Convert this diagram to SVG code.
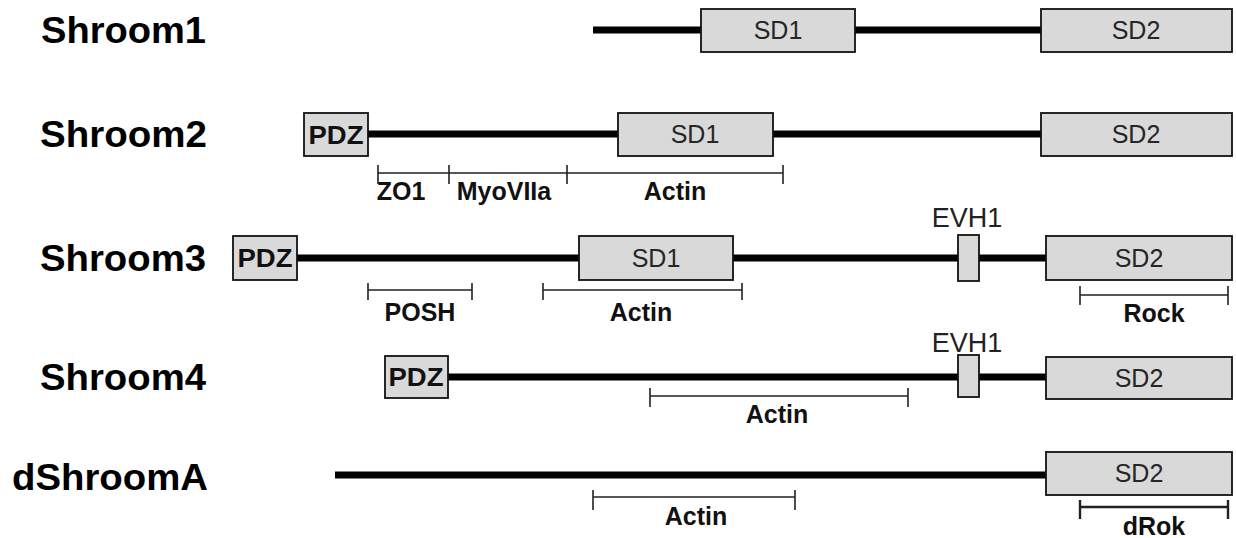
<svg xmlns="http://www.w3.org/2000/svg" width="1236" height="538" viewBox="0 0 1236 538">
  <style>
    .bg { fill: #ffffff; }
    .title { font-family: "Liberation Sans", Arial, sans-serif; font-weight: bold; font-size: 37px; fill: #000; text-anchor: end; }
    .dom { fill: #d9d9d9; stroke: #111; stroke-width: 1.8; }
    .sd { font-family: "Liberation Sans", Arial, sans-serif; font-size: 25px; fill: #262626; text-anchor: middle; }
    .pdz { font-family: "Liberation Sans", Arial, sans-serif; font-weight: bold; font-size: 26px; fill: #111; text-anchor: middle; }
    .evh { font-family: "Liberation Sans", Arial, sans-serif; font-size: 27px; fill: #222; text-anchor: middle; }
    .backbone { stroke: #000; stroke-width: 7; fill: none; }
    .bracket { stroke: #222; stroke-width: 1.6; fill: none; }
    .bracket.heavy { stroke-width: 2.4; }
    .blabel { font-family: "Liberation Sans", Arial, sans-serif; font-weight: bold; font-size: 25px; fill: #111; text-anchor: middle; }
  </style>
  <rect class="bg" x="0" y="0" width="1236" height="538"/>

  <!-- protein names -->
  <g id="labels">
    <text class="title" x="206" y="43" textLength="165" lengthAdjust="spacingAndGlyphs">Shroom1</text>
    <text class="title" x="207" y="147" textLength="167" lengthAdjust="spacingAndGlyphs">Shroom2</text>
    <text class="title" x="206" y="271" textLength="166" lengthAdjust="spacingAndGlyphs">Shroom3</text>
    <text class="title" x="206" y="390" textLength="166" lengthAdjust="spacingAndGlyphs">Shroom4</text>
    <text class="title" x="208" y="490" textLength="196" lengthAdjust="spacingAndGlyphs">dShroomA</text>
  </g>

  <!-- backbone lines joining the domains -->
  <g id="connectors">
    <line class="backbone" x1="593" y1="30" x2="1041" y2="30"/>
    <line class="backbone" x1="368" y1="134" x2="1041" y2="134"/>
    <line class="backbone" x1="297" y1="258" x2="1046" y2="258"/>
    <line class="backbone" x1="448" y1="377" x2="1046" y2="377"/>
    <line class="backbone" x1="335" y1="475" x2="1046" y2="475"/>
  </g>

  <!-- Shroom1 domains -->
  <g id="shroom1-sd1"><rect class="dom" x="701" y="9" width="154" height="43"/><text class="sd" x="778" y="39">SD1</text></g>
  <g id="shroom1-sd2"><rect class="dom" x="1041" y="9" width="191" height="43"/><text class="sd" x="1136" y="39">SD2</text></g>

  <!-- Shroom2 domains -->
  <g id="shroom2-pdz"><rect class="dom" x="304" y="113" width="64" height="43"/><text class="pdz" x="336" y="144" textLength="55" lengthAdjust="spacingAndGlyphs">PDZ</text></g>
  <g id="shroom2-sd1"><rect class="dom" x="618" y="113" width="155" height="43"/><text class="sd" x="695" y="143">SD1</text></g>
  <g id="shroom2-sd2"><rect class="dom" x="1041" y="113" width="191" height="43"/><text class="sd" x="1136" y="143">SD2</text></g>

  <!-- Shroom3 domains -->
  <g id="shroom3-pdz"><rect class="dom" x="233" y="236" width="64" height="44"/><text class="pdz" x="265" y="267" textLength="55" lengthAdjust="spacingAndGlyphs">PDZ</text></g>
  <g id="shroom3-sd1"><rect class="dom" x="579" y="236" width="154" height="44"/><text class="sd" x="656" y="267">SD1</text></g>
  <g id="shroom3-evh1"><rect class="dom" x="958" y="235" width="21" height="46"/><text class="evh" x="967" y="227">EVH1</text></g>
  <g id="shroom3-sd2"><rect class="dom" x="1046" y="236" width="186" height="44"/><text class="sd" x="1139" y="267">SD2</text></g>

  <!-- Shroom4 domains -->
  <g id="shroom4-pdz"><rect class="dom" x="385" y="356" width="63" height="42"/><text class="pdz" x="416" y="386" textLength="55" lengthAdjust="spacingAndGlyphs">PDZ</text></g>
  <g id="shroom4-evh1"><rect class="dom" x="958" y="355" width="21" height="42"/><text class="evh" x="967" y="352">EVH1</text></g>
  <g id="shroom4-sd2"><rect class="dom" x="1046" y="357" width="186" height="42"/><text class="sd" x="1139" y="387">SD2</text></g>

  <!-- dShroomA domains -->
  <g id="dshroomA-sd2"><rect class="dom" x="1046" y="452" width="186" height="43"/><text class="sd" x="1139" y="482">SD2</text></g>

  <!-- binding regions -->
  <g id="binding-regions">
    <path class="bracket" d="M378 173 H783 M378 165 V184 M449 165 V184 M567 165 V184 M783 165 V184"/>
    <text class="blabel" x="401" y="200">ZO1</text>
    <text class="blabel" x="504" y="200">MyoVIIa</text>
    <text class="blabel" x="675" y="200">Actin</text>

    <path class="bracket" d="M368 290 H472 M368 283 V300 M472 283 V300"/>
    <text class="blabel" x="420" y="321">POSH</text>
    <path class="bracket" d="M543 290 H742 M543 283 V300 M742 283 V300"/>
    <text class="blabel" x="641" y="321">Actin</text>
    <path class="bracket" d="M1080 295 H1228 M1080 286 V305 M1228 286 V305"/>
    <text class="blabel" x="1154" y="322">Rock</text>

    <path class="bracket" d="M650 396 H908 M650 388 V407 M908 388 V407"/>
    <text class="blabel" x="777" y="423">Actin</text>

    <path class="bracket" d="M593 497 H795 M593 490 V510 M795 490 V510"/>
    <text class="blabel" x="696" y="525">Actin</text>
    <path class="bracket heavy" d="M1080 507 H1228 M1080 500 V519 M1228 500 V519"/>
    <text class="blabel" x="1154" y="535">dRok</text>
  </g>
</svg>
